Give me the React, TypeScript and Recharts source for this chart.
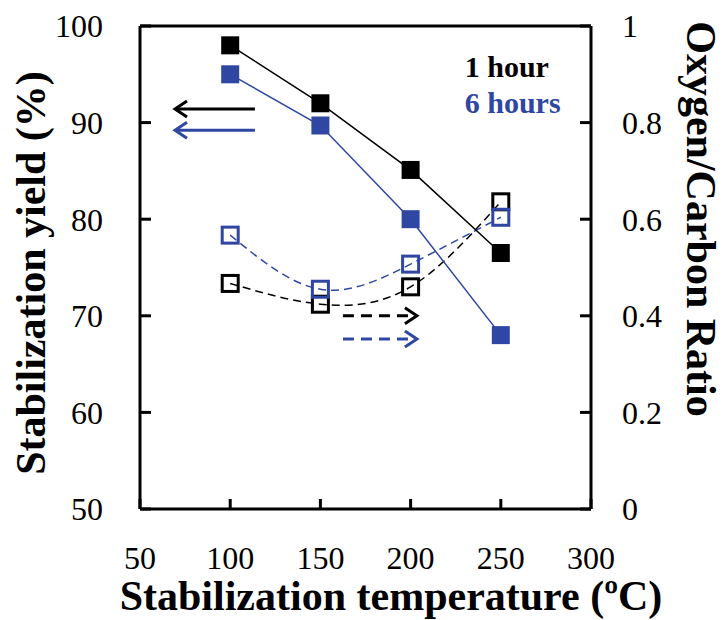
import { ComposedChart, Line, XAxis, YAxis, ReferenceLine, ReferenceDot } from 'recharts';

// values
const temps = [100, 150, 200, 250];
const yield1h = [98, 92, 85.1, 76.5];
const yield6h = [95, 89.7, 80, 68];
const ratio1h = [0.467, 0.424, 0.46, 0.636];
const ratio6h = [0.567, 0.455, 0.507, 0.604];

const xTicks = [50, 100, 150, 200, 250, 300];
const leftTicks = [50, 60, 70, 80, 90, 100];
const rightTicks = [0, 0.2, 0.4, 0.6, 0.8, 1];

const BLUE = '#2f46a3';
const FONT = "Liberation Serif, DejaVu Serif, serif";

const data = temps.map((t, i) => ({
  temp: t,
  y1: yield1h[i],
  y6: yield6h[i],
  r1: ratio1h[i],
  r6: ratio6h[i],
}));

const filledSquare = (color: string) => (props: any) => {
  const { cx, cy, index } = props;
  return <rect key={index} x={cx - 9} y={cy - 9} width={18} height={18} fill={color} />;
};

const openSquare = (color: string) => (props: any) => {
  const { cx, cy, index } = props;
  return (
    <rect key={index} x={cx - 8} y={cy - 8} width={16} height={16} fill="none" stroke={color} strokeWidth={3} />
  );
};

const arrow = (color: string, dashed: boolean) => (props: any) => {
  const { x1, y1, x2, y2 } = props;
  const len = Math.hypot(x2 - x1, y2 - y1) || 1;
  const dx = (x2 - x1) / len;
  const dy = (y2 - y1) / len;
  const L = 12;
  const W = 8;
  const ax = x2 - dx * L;
  const ay = y2 - dy * L;
  return (
    <g>
      <line x1={x1} y1={y1} x2={x2 - dx * 2} y2={y2 - dy * 2} stroke={color} strokeWidth={3}
        strokeDasharray={dashed ? '11 7' : undefined} />
      <polyline points={`${ax - dy * W},${ay + dx * W} ${x2},${y2} ${ax + dy * W},${ay - dx * W}`}
        fill="none" stroke={color} strokeWidth={3} />
    </g>
  );
};

const legendText = (label: string, color: string) => (props: any) => (
  <text x={props.cx} y={props.cy} fill={color} fontFamily={FONT} fontWeight="bold" fontSize={30}>
    {label}
  </text>
);

const tickStyle = { fill: '#000', fontSize: 32, fontFamily: FONT };
const axisStroke = { stroke: '#000', strokeWidth: 3 };

export default function App() {
  return (
    <div style={{ position: 'absolute', left: 0, top: 0, width: 726, height: 620, background: '#fff' }}>
      <ComposedChart width={726} height={620} data={data} margin={{ top: 26, right: 0, bottom: 0, left: 0 }}
        style={{ fontFamily: FONT }}>
        <XAxis
          dataKey="temp"
          type="number"
          domain={[50, 300]}
          ticks={xTicks}
          height={111}
          tick={tickStyle}
          axisLine={axisStroke}
          tickLine={axisStroke}
          tickSize={-10}
          tickMargin={47}
          interval={0}
          label={{
            content: () => (
              <text x={391} y={610} textAnchor="middle"
                fontFamily={FONT} fontWeight="bold" fontSize={42} fill="#000">
                Stabilization temperature (ºC)
              </text>
            ),
          }}
        />
        <YAxis
          yAxisId="left"
          domain={[50, 100]}
          ticks={leftTicks}
          width={140}
          tick={tickStyle}
          axisLine={axisStroke}
          tickLine={axisStroke}
          tickSize={-11}
          tickMargin={48}
          interval={0}
          label={{
            content: () => (
              <text x={0} y={0} transform="translate(45,273) rotate(-90)" textAnchor="middle"
                fontFamily={FONT} fontWeight="bold" fontSize={42} fill="#000">
                Stabilization yield (%)
              </text>
            ),
          }}
        />
        <YAxis
          yAxisId="right"
          orientation="right"
          domain={[0, 1]}
          ticks={rightTicks}
          width={135}
          tick={tickStyle}
          axisLine={axisStroke}
          tickLine={axisStroke}
          tickSize={-11}
          tickMargin={42}
          interval={0}
          label={{
            content: () => (
              <text x={0} y={0} transform="translate(687,219) rotate(90)" textAnchor="middle"
                fontFamily={FONT} fontWeight="bold" fontSize={42} fill="#000">
                Oxygen/Carbon Ratio
              </text>
            ),
          }}
        />
        <ReferenceLine yAxisId="left" y={100} stroke="#000" strokeWidth={3} />

        <Line yAxisId="right" dataKey="r1" type="natural" stroke="#000" strokeWidth={1.5}
          strokeDasharray="8 5" dot={openSquare('#000')} isAnimationActive={false} />
        <Line yAxisId="right" dataKey="r6" type="natural" stroke={BLUE} strokeWidth={1.5}
          strokeDasharray="8 5" dot={openSquare(BLUE)} isAnimationActive={false} />
        <Line yAxisId="left" dataKey="y1" type="linear" stroke="#000" strokeWidth={1.5}
          dot={filledSquare('#000')} isAnimationActive={false} />
        <Line yAxisId="left" dataKey="y6" type="linear" stroke={BLUE} strokeWidth={1.5}
          dot={filledSquare(BLUE)} isAnimationActive={false} />

        <ReferenceLine yAxisId="left" segment={[{ x: 113.7, y: 91.4 }, { x: 69.4, y: 91.4 }]}
          shape={arrow('#000', false)} />
        <ReferenceLine yAxisId="left" segment={[{ x: 113.7, y: 89.2 }, { x: 69.4, y: 89.2 }]}
          shape={arrow(BLUE, false)} />
        <ReferenceLine yAxisId="right" segment={[{ x: 162.5, y: 0.4 }, { x: 203.5, y: 0.4 }]}
          shape={arrow('#000', true)} />
        <ReferenceLine yAxisId="right" segment={[{ x: 162.5, y: 0.352 }, { x: 203.5, y: 0.352 }]}
          shape={arrow(BLUE, true)} />

        <ReferenceDot yAxisId="left" x={230} y={94.7} r={0} shape={legendText('1 hour', '#000')} />
        <ReferenceDot yAxisId="left" x={230} y={91.0} r={0} shape={legendText('6 hours', BLUE)} />
      </ComposedChart>
    </div>
  );
}
